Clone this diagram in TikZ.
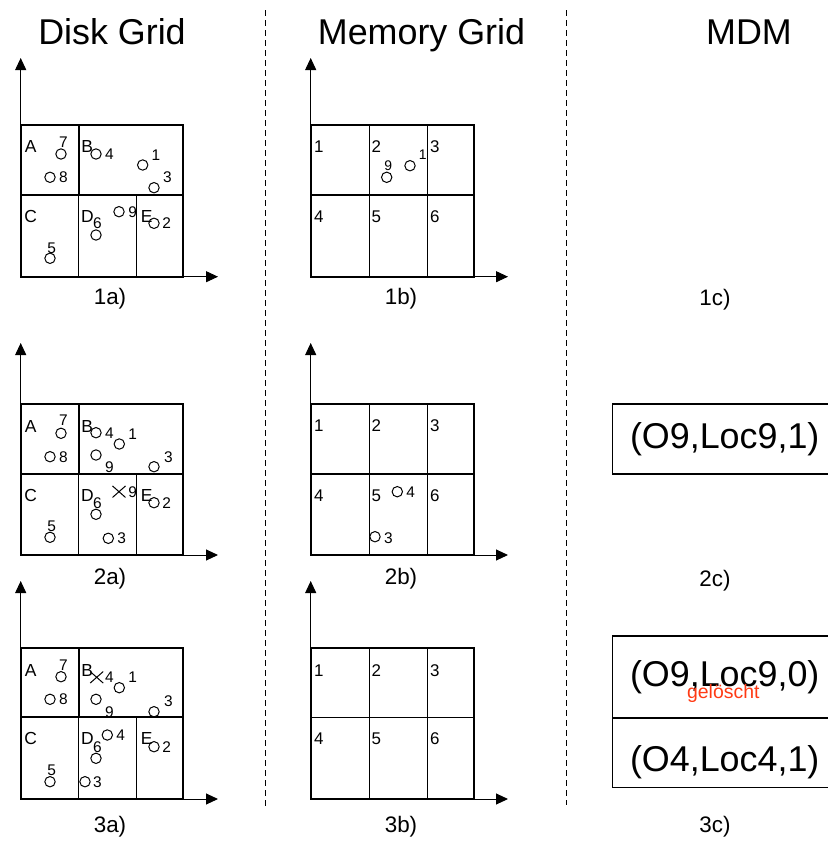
\documentclass[tikz,border=0pt]{standalone}
\usepackage{fontspec}
\setmainfont{Liberation Sans}
\usetikzlibrary{arrows.meta,shapes.misc}
\definecolor{delred}{RGB}{255,58,20}
\tikzset{
  axisline/.style={line width=1bp, -{Triangle[length=12bp,width=11bp]}},
  thickline/.style={line width=1.8bp},
  thinline/.style={line width=1bp},
  obj/.style={circle, draw, line width=1bp, minimum size=10.4bp, inner sep=0pt},
  xobj/.style={cross out, draw, line width=1bp, minimum width=12bp, minimum height=10.5bp, inner sep=0pt},
  num/.style={inner sep=0pt, font=\fontsize{15.5}{17}\selectfont},
  smallnum/.style={inner sep=0pt, font=\fontsize{14}{16}\selectfont},
  cell/.style={inner sep=0pt, font=\fontsize{17.5}{19}\selectfont},
  mcell/.style={anchor=west, inner sep=0pt, font=\fontsize{17}{19}\selectfont},
  title/.style={anchor=base, inner sep=0pt, font=\fontsize{36}{40}\selectfont},
  sublabel/.style={anchor=base, inner sep=0pt, font=\fontsize{22.5}{25}\selectfont},
  entry/.style={anchor=base, inner sep=0pt, font=\fontsize{36}{40}\selectfont},
  deleted/.style={anchor=base, inner sep=0pt, text=delred, font=\fontsize{19.5}{22}\selectfont},
  mdmline/.style={line width=1.3bp},
  sepline/.style={line width=1bp, dash pattern=on 6bp off 4bp}
}
\begin{document}
\begin{tikzpicture}[x=1bp,y=-1bp]
\path[fill=white, use as bounding box] (0,0) rectangle (828,842);

% titles
\node[title] (tdisk) at (112,44) {Disk Grid};
\node[title] (tmem) at (421.5,44) {Memory Grid};
\node[title] (tmdm) at (749,44) {MDM};

% separators
\coordinate (s1a) at (265,10); \coordinate (s1b) at (265,810);
\coordinate (s2a) at (566.7,10); \coordinate (s2b) at (566.7,805);
\draw[sepline] (s1a) -- (s1b);
\draw[sepline] (s2a) -- (s2b);

% grids
\foreach \T/\M/\B/\Ya/\Bl/\Bc [count=\r] in {125/195/276.7/58/304/305, 404/474/555/343/584/586, 648.3/717.3/799/581/832/832}{
  % disk grid
  \coordinate (dO\r) at (20.7,\B);
  \coordinate (dY\r) at (20.7,\Ya);
  \coordinate (dX\r) at (218,\B);
  \draw[axisline] (dO\r) -- (dY\r);
  \draw[axisline] (dO\r) -- (dX\r);
  \draw[thinline] (78.7,\M) -- (78.7,\B) (136.7,\M) -- (136.7,\B);
  \draw[thickline] (78.7,\T) -- (78.7,\M) (20.7,\M) -- (182.7,\M);
  \draw[thickline] (20.7,\T) rectangle (182.7,\B);
  \node[cell] (dA\r) at (30.7,\T+22) {A};
  \node[cell] (dB\r) at (87.3,\T+22) {B};
  \node[cell] (dC\r) at (30.7,\M+21) {C};
  \node[cell] (dD\r) at (87.3,\M+21) {D};
  \node[cell] (dE\r) at (146.7,\M+21) {E};
  % memory grid
  \coordinate (mO\r) at (310.7,\B);
  \coordinate (mY\r) at (310.7,\Ya);
  \coordinate (mX\r) at (508,\B);
  \draw[axisline] (mO\r) -- (mY\r);
  \draw[axisline] (mO\r) -- (mX\r);
  \draw[thinline] (369,\T) -- (369,\B) (427.3,\T) -- (427.3,\B);
  \draw[line width=1.4bp] (310.7,\M) -- (474,\M);
  \draw[thickline] (310.7,\T) rectangle (474,\B);
  \node[mcell] (m1\r) at (314,\T+22) {1};
  \node[mcell] (m2\r) at (371.5,\T+22) {2};
  \node[mcell] (m3\r) at (430,\T+22) {3};
  \node[mcell] (m4\r) at (314,\M+21.5) {4};
  \node[mcell] (m5\r) at (371.5,\M+21.5) {5};
  \node[mcell] (m6\r) at (430,\M+21.5) {6};
  % sub labels
  \node[sublabel] (la\r) at (110,\Bl) {\r a)};
  \node[sublabel] (lb\r) at (401,\Bl) {\r b)};
  \node[sublabel] (lc\r) at (715,\Bc) {\r c)};
}

% ---- 1a
\node[obj] (a1o7) at (61,154) {};    \node[num] (a1n7) at (63.3,141.7) {7};
\node[obj] (a1o8) at (50,177.3) {};  \node[num] (a1n8) at (63.3,177.3) {8};
\node[obj] (a1o4) at (96,154) {};    \node[num] (a1n4) at (109.3,154) {4};
\node[obj] (a1o1) at (142.7,165) {}; \node[num] (a1n1) at (156,155) {1};
\node[obj] (a1o3) at (154,187.7) {}; \node[num] (a1n3) at (167.3,176.7) {3};
\node[obj] (a1o9) at (119,211.7) {}; \node[num] (a1n9) at (132.7,211.7) {9};
\node[obj] (a1o2) at (154,223.3) {}; \node[num] (a1n2) at (166.7,223.3) {2};
\node[obj] (a1o6) at (96,235) {};    \node[num] (a1n6) at (97.3,223.3) {6};
\node[obj] (a1o5) at (50,258.3) {};  \node[num] (a1n5) at (51.7,248.3) {5};

% ---- 2a
\node[obj] (a2o7) at (61,433.3) {};   \node[num] (a2n7) at (63.3,420) {7};
\node[obj] (a2o8) at (50,456.7) {};   \node[num] (a2n8) at (63.3,456.7) {8};
\node[obj] (a2o4) at (96,432.7) {};   \node[num] (a2n4) at (109.3,433.3) {4};
\node[obj] (a2o1) at (119.3,444) {};  \node[num] (a2n1) at (132.7,434) {1};
\node[obj] (a2o9) at (96,455) {};     \node[num] (a2n9) at (109.3,466.7) {9};
\node[obj] (a2o3) at (154,466.7) {};  \node[num] (a2n3) at (168.3,456.7) {3};
\node[xobj] (a2x9) at (119,491.7) {}; \node[num] (a2nx9) at (132.7,491.7) {9};
\node[obj] (a2o2) at (154,502.7) {};  \node[num] (a2n2) at (166.7,502.7) {2};
\node[obj] (a2o6) at (96,514.3) {};   \node[num] (a2n6) at (97.3,502.7) {6};
\node[obj] (a2o3b) at (108.3,538.3) {}; \node[num] (a2n3b) at (121.7,538.3) {3};
\node[obj] (a2o5) at (50,537.3) {};   \node[num] (a2n5) at (51.7,526.7) {5};

% ---- 3a
\node[obj] (a3o7) at (61,676.7) {};   \node[num] (a3n7) at (63.3,665) {7};
\node[obj] (a3o8) at (50,699.3) {};   \node[num] (a3n8) at (63.3,699.3) {8};
\node[xobj] (a3x4) at (96.7,677.3) {}; \node[num] (a3nx4) at (109.3,677.3) {4};
\node[obj] (a3o1) at (119.3,687.7) {}; \node[num] (a3n1) at (132.7,677.3) {1};
\node[obj] (a3o9) at (96,699.3) {};   \node[num] (a3n9) at (109.3,711.7) {9};
\node[obj] (a3o3) at (154,711.7) {};  \node[num] (a3n3) at (168.3,700.7) {3};
\node[obj] (a3o4) at (107.3,735) {};  \node[num] (a3n4) at (120.7,735) {4};
\node[obj] (a3o2) at (154,746.7) {};  \node[num] (a3n2) at (166.7,746.7) {2};
\node[obj] (a3o6) at (96,758.3) {};   \node[num] (a3n6) at (97.3,746.7) {6};
\node[obj] (a3o5) at (50,781.7) {};   \node[num] (a3n5) at (51.7,770.7) {5};
\node[obj] (a3o3b) at (85,781.7) {};  \node[num] (a3n3b) at (97.3,781.7) {3};

% ---- 1b
\node[obj] (b1o9) at (386.7,177.3) {}; \node[smallnum] (b1n9) at (388.3,165.5) {9};
\node[obj] (b1o1) at (410,165.7) {};   \node[smallnum] (b1n1) at (422.7,155) {1};

% ---- 2b
\node[obj] (b2o4) at (397.3,491.7) {}; \node[num] (b2n4) at (410.7,491.7) {4};
\node[obj] (b2o3) at (375,536.7) {};   \node[num] (b2n3) at (388.3,538.3) {3};

% ---- 2c
\draw[mdmline] (828,404) -- (612.7,404) -- (612.7,474) -- (828,474);
\node[entry] (c2e1) at (724.7,448.3) {(O9,Loc9,1)};

% ---- 3c
\draw[mdmline] (828,636) -- (612.7,636) -- (612.7,787.7) -- (828,787.7);
\draw[line width=1.8bp] (612.7,717.7) -- (828,717.7);
\node[entry] (c3e1) at (724.7,686) {(O9,Loc9,0)};
\node[deleted] (c3del) at (723.3,698) {gelöscht};
\node[entry] (c3e2) at (724.7,771.7) {(O4,Loc4,1)};
\end{tikzpicture}
\end{document}
